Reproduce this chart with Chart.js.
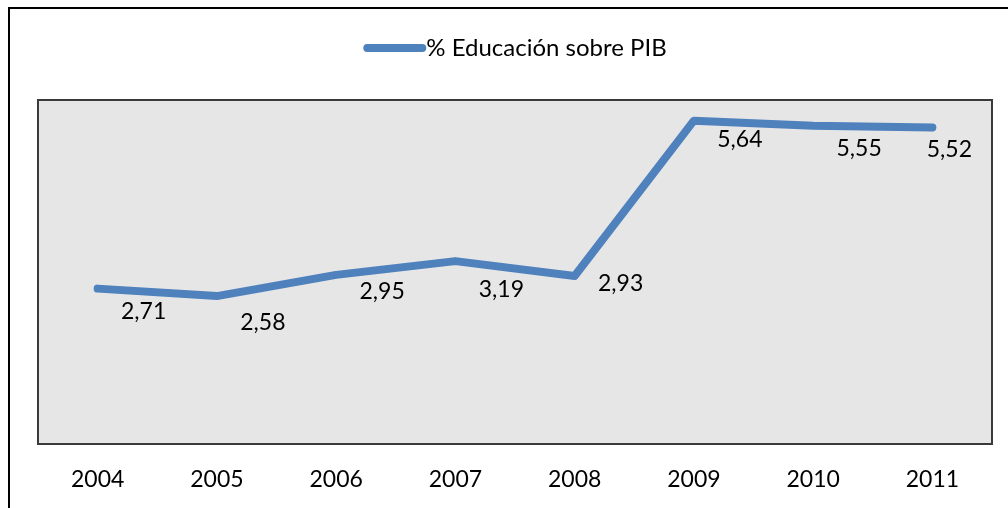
<!DOCTYPE html>
<html>
<head>
<meta charset="utf-8">
<script src="https://cdn.jsdelivr.net/npm/chart.js@4.4.1/dist/chart.umd.min.js"></script>
<style>
  html, body { margin: 0; padding: 0; background: #ffffff; }
  #wrap { width: 1008px; height: 508px; position: relative; }
</style>
</head>
<body>
<div id="wrap"><canvas id="c" width="1008" height="508"></canvas></div>
<script>
const categories = ['2004', '2005', '2006', '2007', '2008', '2009', '2010', '2011'];
const educacionPIB = [2.71, 2.58, 2.95, 3.19, 2.93, 5.64, 5.55, 5.52];
const seriesName = '% Educación sobre PIB';

const FONT = 'Lato, "Open Sans", sans-serif';
const LINE_COLOR = '#4f81bd';

const framePlugin = {
  id: 'frame',
  beforeDraw(chart) {
    const { ctx, chartArea: a } = chart;
    ctx.save();
    ctx.fillStyle = '#e6e6e6';
    ctx.fillRect(a.left, a.top, a.right - a.left, a.bottom - a.top);
    ctx.restore();
  },
  afterDraw(chart) {
    const { ctx, chartArea: a, width, height } = chart;
    ctx.save();
    // plot border
    ctx.strokeStyle = '#3a3a3a';
    ctx.lineWidth = 2;
    ctx.strokeRect(a.left, a.top, a.right - a.left, a.bottom - a.top);
    // outer chart border
    ctx.strokeStyle = '#000000';
    ctx.lineWidth = 2;
    ctx.strokeRect(9, 8, width + 10, height + 10);

    // legend
    const text = seriesName;
    ctx.font = '24px ' + FONT;
    const tw = ctx.measureText(text).width;
    const lineLen = 63;
    const total = lineLen + tw;
    const cx = (a.left + a.right) / 2;
    const x0 = cx - total / 2;
    const ly = 48;
    ctx.strokeStyle = LINE_COLOR;
    ctx.lineWidth = 8;
    ctx.lineCap = 'round';
    ctx.beginPath();
    ctx.moveTo(x0 + 4, ly);
    ctx.lineTo(x0 + lineLen - 4, ly);
    ctx.stroke();
    ctx.fillStyle = '#000000';
    ctx.textAlign = 'left';
    ctx.textBaseline = 'middle';
    ctx.fillText(text, x0 + lineLen, ly);

    // data labels
    ctx.font = '23px ' + FONT;
    const meta = chart.getDatasetMeta(0);
    const dy = [23, 26, 17, 28, 8, 19, 23, 22];
    ctx.textAlign = 'center';
    meta.data.forEach((pt, i) => {
      const label = educacionPIB[i].toFixed(2).replace('.', ',');
      const w = ctx.measureText(label).width;
      let x = pt.x + 46;
      if (x + w / 2 > a.right - 20) x = a.right - 20 - w / 2;
      ctx.fillText(label, x, pt.y + dy[i]);
    });
    ctx.restore();
  }
};

new Chart(document.getElementById('c'), {
  type: 'line',
  data: {
    labels: categories,
    datasets: [{
      label: seriesName,
      data: educacionPIB,
      borderColor: LINE_COLOR,
      backgroundColor: LINE_COLOR,
      borderWidth: 8,
      borderCapStyle: 'round',
      borderJoinStyle: 'round',
      pointRadius: 0,
      pointHoverRadius: 0,
      tension: 0,
      fill: false
    }]
  },
  options: {
    responsive: false,
    animation: false,
    devicePixelRatio: 1,
    layout: { padding: { top: 100, left: 38, right: 16, bottom: 0 } },
    plugins: {
      legend: { display: false },
      tooltip: { enabled: false }
    },
    scales: {
      x: {
        type: 'category',
        offset: true,
        grid: { display: false, drawTicks: false },
        border: { display: false },
        afterFit(scale) { scale.height = 64; },
        ticks: {
          color: '#000000',
          font: { family: FONT, size: 23 },
          padding: 22,
          maxRotation: 0,
          autoSkip: false
        }
      },
      y: {
        display: false,
        min: 0,
        max: 6
      }
    }
  },
  plugins: [framePlugin]
});
</script>
</body>
</html>
